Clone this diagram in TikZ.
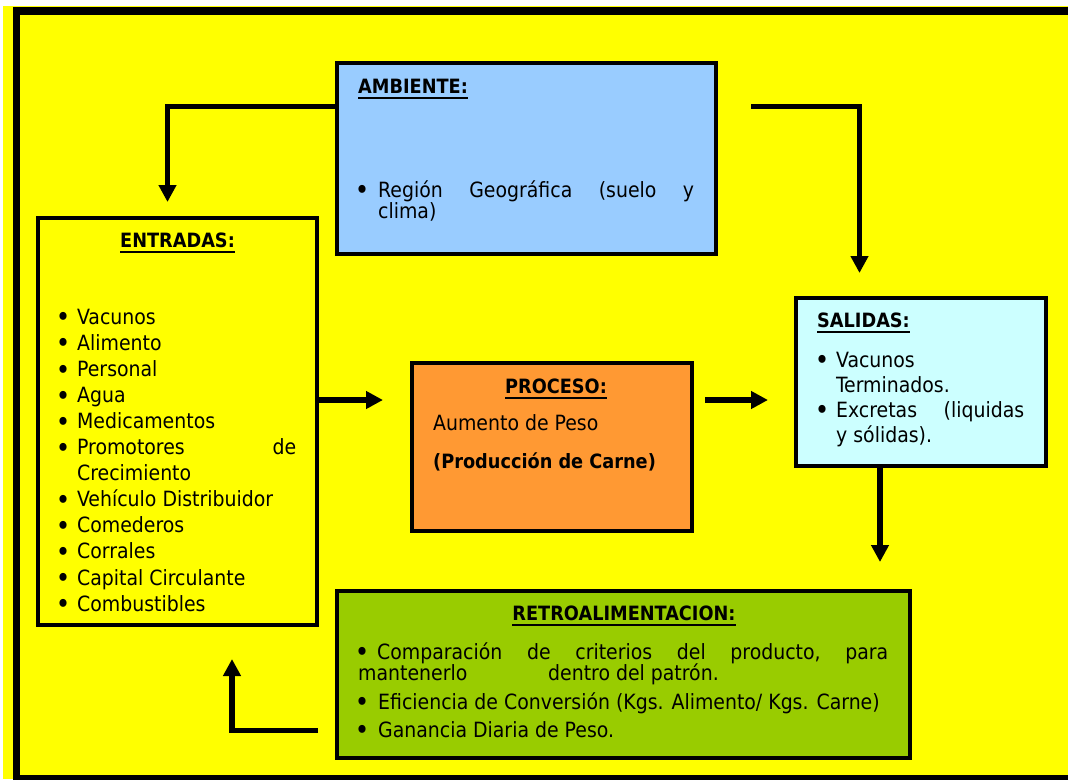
\documentclass[tikz,border=0pt]{standalone}
\usepackage{fontspec}
\setmainfont{DejaVu Sans Condensed}
\usetikzlibrary{arrows.meta}
\definecolor{yel}{HTML}{FFFF00}
\definecolor{ambc}{HTML}{99CCFF}
\definecolor{salc}{HTML}{CCFFFF}
\definecolor{proc}{HTML}{FF9933}
\definecolor{retc}{HTML}{99CC00}
\newcommand\ulbox[1]{\sbox0{#1}\rlap{\rule[-6pt]{\wd0}{2.2pt}}\usebox0}
\newcommand\bigbul{\raisebox{-2.8pt}{\scalebox{1.3}{•}}}
\begin{document}
\begin{tikzpicture}[x=1pt,y=-1pt,
  font=\fontsize{21}{26}\selectfont,
  box/.style={draw=black, line width=4pt, inner sep=0pt, anchor=north west},
  txt/.style={inner sep=0pt, anchor=base west},
  bld/.style={font=\fontsize{19.7}{26}\selectfont\bfseries},
  ttl/.style={inner sep=0pt, anchor=base west, bld},
  bul/.style={inner sep=0pt, anchor=base},
  arr/.style={line width=5.5pt, line join=miter, -{Triangle[width=17pt,length=17pt]}}]
\useasboundingbox (0,0) rectangle (1068,779);
\begin{scope}
\clip (0,0) rectangle (1068,779);
\fill[yel] (3,6) rectangle (1068,779);
\draw[line width=7.5pt] (16.5,11) rectangle (1100,779);
\end{scope}
% boxes
\node[box, fill=ambc, minimum width=379pt, minimum height=191pt] (amb) at (335,61) {};
\node[box, fill=yel, minimum width=279pt, minimum height=407pt] (ent) at (36,216) {};
\node[box, fill=proc, minimum width=280pt, minimum height=168pt] (pro) at (410,361) {};
\node[box, fill=salc, minimum width=250pt, minimum height=168pt] (sal) at (794,296) {};
\node[box, fill=retc, minimum width=573pt, minimum height=167pt] (ret) at (335,589) {};
% AMBIENTE
\node[ttl] (ambt) at (358,93) {\ulbox{AMBIENTE:}};
\node[bul] (ambb) at (362,197) {\bigbul};
\node[txt] (amb1) at (378,197) {\hbox to 316pt{Región\hfill Geográfica\hfill (suelo\hfill y}};
\node[txt] (amb2) at (378,218) {clima)};
% ENTRADAS
\node[ttl, anchor=base] (entt) at (177.5,247) {\ulbox{ENTRADAS:}};
\foreach \i/\t in {0/Vacunos,1/Alimento,2/Personal,3/Agua,4/Medicamentos,
  5/{\hbox to 219pt{Promotores\hfill de}},6/Crecimiento,7/Vehículo Distribuidor,
  8/Comederos,9/Corrales,10/Capital Circulante,11/Combustibles}{
  \node[txt] (e\i) at (77,324+26.1*\i) {\t};
}
\foreach \i in {0,1,2,3,4,5,7,8,9,10,11}{
  \node[bul] (eb\i) at (63,324+26.1*\i) {\bigbul};
}
% PROCESO
\node[ttl, anchor=base] (prot) at (556,393) {\ulbox{PROCESO:}};
\node[txt] (pro1) at (433,430) {Aumento de Peso};
\node[txt, bld] (pro2) at (433,468) {(Producción de Carne)};
% SALIDAS
\node[ttl] (salt) at (817,327) {\ulbox{SALIDAS:}};
\node[bul] (salb1) at (822,367) {\bigbul};
\node[txt] (sal1) at (836,367) {Vacunos};
\node[txt] (sal2) at (836,392) {Terminados.};
\node[bul] (salb2) at (822,417) {\bigbul};
\node[txt] (sal3) at (836,417) {\hbox to 188pt{Excretas\hfill (liquidas}};
\node[txt] (sal4) at (836,442) {y sólidas).};
% RETROALIMENTACION
\node[ttl, anchor=base] (rett) at (624,620) {\ulbox{RETROALIMENTACION:}};
\node[bul] (retb1) at (362,659) {\bigbul};
\node[txt] (ret1) at (377,659) {\hbox to 511pt{Comparación\hfill de\hfill criterios\hfill del\hfill producto,\hfill para}};
\node[txt] (ret2) at (358,680) {\hbox to 190pt{mantenerlo\hfill}dentro del patrón.};
\node[bul] (retb3) at (362,709) {\bigbul};
\node[txt] (ret3) at (378,709) {Eficiencia de Conversión (Kgs. Alimento/ Kgs. Carne)};
\node[bul] (retb4) at (362,737) {\bigbul};
\node[txt] (ret4) at (378,737) {Ganancia Diaria de Peso.};
% helper coordinates
\coordinate (a1) at (167.5,106.5);
\coordinate (a2s) at (751,106.5);
\coordinate (a2) at (859.5,106.5);
\coordinate (m) at (0,400);
\coordinate (c880) at (880,0);
\coordinate (c730) at (0,730.5);
\coordinate (c232) at (232,0);
\coordinate (a6s) at (318,730.5);
% connectors
\draw[arr] (amb.west |- a1) -- (a1) -- ([yshift=14pt]ent.north -| a1);
\draw[arr] (a2s) -- (a2) -- ([yshift=23pt]sal.north -| a2);
\draw[arr] (ent.east |- m) -- ([xshift=-27pt]pro.west |- m);
\draw[arr] ([xshift=11pt]pro.east |- m) -- ([xshift=-26pt]sal.west |- m);
\draw[arr] (sal.south -| c880) -- ([yshift=27pt]ret.north -| c880);
\draw[arr] (a6s) -- (c232 |- c730) -- ([yshift=-32pt]ent.south -| c232);
\end{tikzpicture}
\end{document}
